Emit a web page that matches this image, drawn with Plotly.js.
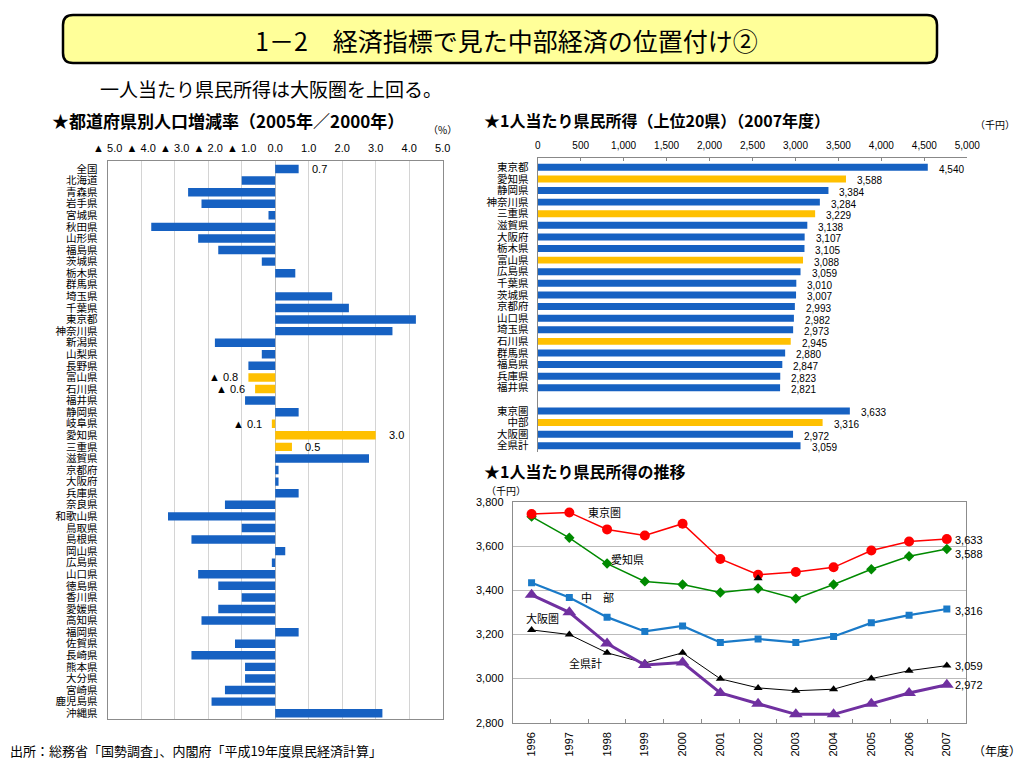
<!DOCTYPE html>
<html><head><meta charset="utf-8">
<script src="https://cdn.plot.ly/plotly-3.0.1.min.js"></script>
<style>html,body{margin:0;padding:0;background:#fff}#chart{width:1024px;height:768px}</style>
</head><body><div id="chart"></div>
<script>
const FONT = 'Liberation Sans, "Noto Sans CJK JP", sans-serif';
const JFONT = '"Noto Sans CJK JP", sans-serif';

// ---- Panel 1: population change 2005/2000 (%) ----
const prefs = ['全国','北海道','青森県','岩手県','宮城県','秋田県','山形県','福島県','茨城県','栃木県','群馬県','埼玉県','千葉県','東京都','神奈川県','新潟県','山梨県','長野県','富山県','石川県','福井県','静岡県','岐阜県','愛知県','三重県','滋賀県','京都府','大阪府','兵庫県','奈良県','和歌山県','鳥取県','島根県','岡山県','広島県','山口県','徳島県','香川県','愛媛県','高知県','福岡県','佐賀県','長崎県','熊本県','大分県','宮崎県','鹿児島県','沖縄県'];
const popChange = [0.7,-1.0,-2.6,-2.2,-0.2,-3.7,-2.3,-1.7,-0.4,0.6,0.0,1.7,2.2,4.2,3.5,-1.8,-0.4,-0.8,-0.8,-0.6,-0.9,0.7,-0.1,3.0,0.5,2.8,0.1,0.1,0.7,-1.5,-3.2,-1.0,-2.5,0.3,-0.1,-2.3,-1.7,-1.0,-1.7,-2.2,0.7,-1.2,-2.5,-0.9,-0.9,-1.5,-1.9,3.2];
const chubuPrefs = ['富山県','石川県','岐阜県','愛知県','三重県','中部'];
const popLabelled = ['全国','富山県','石川県','岐阜県','愛知県','三重県'];
const popTickVals = [-5,-4,-3,-2,-1,0,1,2,3,4,5];
const popTickText = ['▲ 5.0','▲ 4.0','▲ 3.0','▲ 2.0','▲ 1.0','0.0','1.0','2.0','3.0','4.0','5.0'];

// ---- Panel 2: per-capita income top 20 (2007, thousand yen) ----
const incomeCats = ['東京都','愛知県','静岡県','神奈川県','三重県','滋賀県','大阪府','栃木県','富山県','広島県','千葉県','茨城県','京都府','山口県','埼玉県','石川県','群馬県','福島県','兵庫県','福井県',' ','東京圏','中部','大阪圏','全県計'];
const incomeVals = [4540,3588,3384,3284,3229,3138,3107,3105,3088,3059,3010,3007,2993,2982,2973,2945,2880,2847,2823,2821,null,3633,3316,2972,3059];

// ---- Panel 3: per-capita income trend ----
const years = ['1996','1997','1998','1999','2000','2001','2002','2003','2004','2005','2006','2007'];
const tokyoArea = [3747,3754,3677,3649,3703,3543,3471,3484,3505,3581,3622,3633];
const aichi = [3735,3639,3522,3441,3427,3391,3409,3363,3427,3496,3555,3588];
const chubu = [3435,3368,3279,3214,3239,3164,3180,3164,3191,3253,3288,3316];
const osakaArea = [3380,3301,3159,3062,3073,2935,2886,2838,2838,2886,2935,2972];
const allPref = [3221,3200,3117,3071,3117,2999,2958,2945,2952,3000,3036,3059];
const strayYear = ['2002'];
const strayVal = [3455];

const BLUE = '#1661C2', YELLOW = '#FFC000';
const fmt = v => v.toLocaleString('en-US');

const traces = [
  {type:'bar', orientation:'h', x: popChange, y: prefs, xaxis:'x', yaxis:'y',
   marker:{color: prefs.map(p => chubuPrefs.includes(p) ? YELLOW : BLUE)}, hoverinfo:'none'},
  {type:'bar', orientation:'h', x: incomeVals, y: incomeCats, xaxis:'x2', yaxis:'y2', width: incomeVals.map(() => 0.6),
   marker:{color: incomeCats.map(p => chubuPrefs.includes(p) ? YELLOW : BLUE)}, hoverinfo:'none'},
  {type:'scatter', mode:'lines+markers', x: years, y: aichi, xaxis:'x3', yaxis:'y3',
   line:{color:'#008A00', width:1.5}, marker:{symbol:'diamond', size:8, color:'#008A00'}},
  {type:'scatter', mode:'lines+markers', x: years, y: tokyoArea, xaxis:'x3', yaxis:'y3',
   line:{color:'#FF0000', width:1.5}, marker:{symbol:'circle', size:10, color:'#FF0000'}},
  {type:'scatter', mode:'lines+markers', x: years, y: chubu, xaxis:'x3', yaxis:'y3',
   line:{color:'#1A7AC8', width:2.2}, marker:{symbol:'square', size:7, color:'#1A7AC8'}},
  {type:'scatter', mode:'lines+markers', x: years, y: allPref, xaxis:'x3', yaxis:'y3',
   line:{color:'#000000', width:1}, marker:{symbol:'triangle-up', size:8, color:'#000000'}},
  {type:'scatter', mode:'lines+markers', x: years, y: osakaArea, xaxis:'x3', yaxis:'y3',
   line:{color:'#7030A0', width:3}, marker:{symbol:'triangle-up', size:12, color:'#7030A0'}},
  {type:'scatter', mode:'markers', x: strayYear, y: strayVal, xaxis:'x3', yaxis:'y3',
   marker:{symbol:'triangle-up', size:8, color:'#000000'}}
];

const ann = [];
ann.push({xref:'paper', yref:'paper', x:506/1024, y:1-40/768, text:'1－2　経済指標で見た中部経済の位置付け②', showarrow:false, font:{family:JFONT, size:25, color:'#000'}, xanchor:'center', yanchor:'middle'});
ann.push({xref:'paper', yref:'paper', x:98/1024, y:1-89/768, text:'一人当たり県民所得は大阪圏を上回る。', showarrow:false, font:{family:JFONT, size:19, color:'#000'}, xanchor:'left', yanchor:'middle'});
ann.push({xref:'paper', yref:'paper', x:50/1024, y:1-120/768, text:'<b>★都道府県別人口増減率（2005年／2000年）</b>', showarrow:false, font:{family:JFONT, size:17, color:'#000'}, xanchor:'left', yanchor:'middle'});
ann.push({xref:'paper', yref:'paper', x:482/1024, y:1-120/768, text:'<b>★1人当たり県民所得（上位20県）（2007年度）</b>', showarrow:false, font:{family:JFONT, size:16, color:'#000'}, xanchor:'left', yanchor:'middle'});
ann.push({xref:'paper', yref:'paper', x:482/1024, y:1-471/768, text:'<b>★1人当たり県民所得の推移</b>', showarrow:false, font:{family:JFONT, size:16, color:'#000'}, xanchor:'left', yanchor:'middle'});
ann.push({xref:'paper', yref:'paper', x:459/1024, y:1-129/768, text:'（%）', showarrow:false, font:{family:JFONT, size:10, color:'#000'}, xanchor:'right', yanchor:'middle'});
ann.push({xref:'paper', yref:'paper', x:1017/1024, y:1-124/768, text:'（千円）', showarrow:false, font:{family:JFONT, size:10, color:'#000'}, xanchor:'right', yanchor:'middle'});
ann.push({xref:'paper', yref:'paper', x:484/1024, y:1-490/768, text:'（千円）', showarrow:false, font:{family:JFONT, size:10, color:'#000'}, xanchor:'left', yanchor:'middle'});
ann.push({xref:'paper', yref:'paper', x:1023/1024, y:1-750/768, text:'（年度）', showarrow:false, font:{family:JFONT, size:12, color:'#000'}, xanchor:'right', yanchor:'middle'});
ann.push({xref:'paper', yref:'paper', x:8/1024, y:1-750/768, text:'出所：総務省「国勢調査」、内閣府「平成19年度県民経済計算」', showarrow:false, font:{family:JFONT, size:13, color:'#000'}, xanchor:'left', yanchor:'middle'});

prefs.forEach((p, i) => {
  if (!popLabelled.includes(p)) return;
  const v = popChange[i];
  const neg = v < 0;
  ann.push({xref:'x', yref:'y', x:v, y:p, text: neg ? '▲ ' + Math.abs(v).toFixed(1) : v.toFixed(1),
    showarrow:false, xanchor: neg ? 'right' : 'left', xshift: neg ? -8 : 11, yanchor:'middle',
    font:{family:FONT, size:11, color:'#000'}});
});
incomeCats.forEach((c, i) => {
  const v = incomeVals[i];
  if (v === null) return;
  ann.push({xref:'x2', yref:'y2', x:v, y:c, text: fmt(v), showarrow:false, xanchor:'left', xshift:9, yshift:-2, yanchor:'middle',
    font:{family:FONT, size:10, color:'#000'}});
});
const seriesLabels = [
  {t:'東京圏', x:1.94, y:3756},
  {t:'愛知県', x:2.53, y:3542},
  {t:'中　部', x:1.74, y:3371},
  {t:'大阪圏', x:0.28, y:3277},
  {t:'全県計', x:1.43, y:3071}
];
seriesLabels.forEach(s => ann.push({xref:'x3', yref:'y3', x:s.x, y:s.y, text:s.t, showarrow:false, xanchor:'center', yanchor:'middle', font:{family:JFONT, size:11, color:'#000'}}));
const endLabels = [
  {v:tokyoArea[11], y:3631},
  {v:aichi[11], y:3567},
  {v:chubu[11], y:3309},
  {v:allPref[11], y:3056},
  {v:osakaArea[11], y:2970}
];
endLabels.forEach(e => ann.push({xref:'x3', yref:'y3', x:11, y:e.y, text:fmt(e.v), showarrow:false, xanchor:'left', xshift:6, yanchor:'middle', font:{family:FONT, size:11, color:'#000'}}));

const x0 = 63/1024, x1 = 937/1024, yt = 1-15/768, yb = 1-63/768, rx = 10/1024, ry = 10/768;
const boxPath = `M ${x0+rx},${yt} L ${x1-rx},${yt} Q ${x1},${yt} ${x1},${yt-ry} L ${x1},${yb+ry} Q ${x1},${yb} ${x1-rx},${yb} L ${x0+rx},${yb} Q ${x0},${yb} ${x0},${yb+ry} L ${x0},${yt-ry} Q ${x0},${yt} ${x0+rx},${yt} Z`;

const GRID = '#D4D4D4', FRAME = '#8C8C8C';
const layout = {
  width:1024, height:768, margin:{l:0,r:0,t:0,b:0},
  paper_bgcolor:'#fff', plot_bgcolor:'#fff', showlegend:false,
  font:{family:FONT, size:10, color:'#000'},
  bargap:0.27,
  shapes:[{type:'path', xref:'paper', yref:'paper', path:boxPath, fillcolor:'#FFFF99', line:{color:'#000', width:2.5}, layer:'below'}],
  annotations: ann,
  xaxis:{domain:[107.7/1024, 442.7/1024], anchor:'y', side:'top', range:[-5,5], tickvals:popTickVals, ticktext:popTickText,
    showgrid:true, gridcolor:GRID, zeroline:true, zerolinecolor:'#BBBBBB', zerolinewidth:1, showline:true, mirror:true, linecolor:FRAME, linewidth:1,
    ticks:'', ticklabelstandoff:4, tickfont:{family:FONT, size:11}},
  yaxis:{domain:[1-719/768, 1-161/768], anchor:'x', type:'category', categoryorder:'array', categoryarray:prefs, autorange:'reversed',
    tickmode:'array', tickvals:prefs, ticktext:prefs,
    showline:true, mirror:true, linecolor:FRAME, linewidth:1, showgrid:false, ticks:'', ticklabelstandoff:7, tickfont:{family:JFONT, size:10.5}},
  xaxis2:{domain:[537.7/1024, 967.3/1024], anchor:'y2', side:'top', range:[0,5000], dtick:500, tickformat:',',
    showgrid:false, zeroline:false, showline:true, linecolor:'#888', linewidth:1, ticks:'inside', ticklen:3, tickcolor:'#888',
    ticklabelstandoff:4, tickfont:{family:FONT, size:10}},
  yaxis2:{domain:[1-451.6/768, 1-157.8/768], anchor:'x2', type:'category', categoryorder:'array', categoryarray:incomeCats, autorange:'reversed',
    tickmode:'array', tickvals:incomeCats, ticktext:incomeCats,
    showline:true, linecolor:'#888', linewidth:1, showgrid:false, ticks:'', ticklabelstandoff:6, tickfont:{family:JFONT, size:10.5}},
  xaxis3:{domain:[512.7/1024, 965.7/1024], anchor:'y3', type:'category', categoryorder:'array', categoryarray:years, range:[-0.5,11.5],
    tickangle:-90, showgrid:false, zeroline:false, showline:true, mirror:true, linecolor:FRAME, linewidth:1,
    ticks:'inside', tickson:'boundaries', ticklen:4, tickcolor:FRAME, ticklabelstandoff:4, tickfont:{family:FONT, size:11}},
  yaxis3:{domain:[1-722.7/768, 1-502.3/768], anchor:'x3', range:[2800,3800], dtick:200, tickformat:',',
    showgrid:true, gridcolor:'#BBBBBB', zeroline:false, showline:true, mirror:true, linecolor:FRAME, linewidth:1,
    ticks:'', ticklabelstandoff:6, tickfont:{family:FONT, size:11}}
};

Plotly.newPlot('chart', traces, layout, {staticPlot:true, displayModeBar:false});
</script>
</body></html>
